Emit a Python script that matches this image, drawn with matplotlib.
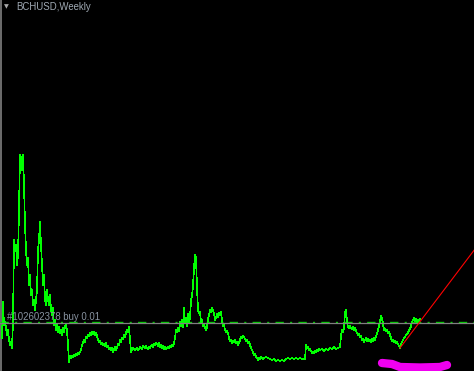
import matplotlib
matplotlib.use("Agg")
import matplotlib.pyplot as plt

# weekly closes (week index = bar position)
weeks = [2, 3, 4, 5, 6, 7, 8, 9, 10, 11, 12, 13, 14, 15, 16, 17, 18, 19, 20, 21,
         22, 23, 24, 25, 26, 27, 28, 29, 30, 31, 32, 33, 34, 35, 36, 37, 38, 39, 40, 41,
         42, 43, 44, 45, 46, 47, 48, 49, 50, 51, 52, 53, 54, 55, 56, 57, 58, 59, 60, 61,
         62, 63, 64, 65, 66, 67, 68, 69, 70, 71, 72, 73, 74, 75, 76, 77, 78, 79, 80, 81,
         82, 83, 84, 85, 86, 87, 88, 89, 90, 91, 92, 93, 94, 95, 96, 97, 98, 99, 100, 101,
         102, 103, 104, 105, 106, 107, 108, 109, 110, 111, 112, 113, 114, 115, 116, 117, 118, 119, 120, 121,
         122, 123, 124, 125, 126, 127, 128, 129, 130, 131, 132, 133, 134, 135, 136, 137, 138, 139, 140, 141,
         142, 143, 144, 145, 146, 147, 148, 149, 150, 151, 152, 153, 154, 155, 156, 157, 158, 159, 160, 161,
         162, 163, 164, 165, 166, 167, 168, 169, 170, 171, 172, 173, 174, 175, 176, 177, 178, 179, 180, 181,
         182, 183, 184, 185, 186, 187, 188, 189, 190, 191, 192, 193, 194, 195, 196, 197, 198, 199, 200, 201,
         202, 203, 204, 205, 206, 207, 208, 209, 210, 211, 212, 213, 214, 215, 216, 217, 218, 219, 220, 221,
         222, 223, 224, 225, 226, 227, 228, 229, 230, 231, 232, 233, 234, 235, 236, 237, 238, 239, 240, 241,
         242, 243, 244, 245, 246, 247, 248, 249, 250, 251, 252, 253, 254, 255, 256, 257, 258, 259, 260, 261,
         262, 263, 264, 266, 268, 270, 272, 274, 276, 278, 280, 282, 284, 286, 288, 290, 292, 294, 296, 298,
         300, 302, 304, 305, 306, 307, 308, 309, 310, 311, 312, 313, 314, 315, 316, 317, 318, 319, 320, 322,
         324, 326, 328, 330, 332, 334, 336, 338, 340, 341, 342, 343, 344, 345, 346, 347, 348, 349, 350, 351,
         352, 353, 354, 355, 356, 357, 358, 359, 360, 361, 362, 363, 364, 365, 366, 367, 368, 369, 370, 371,
         372, 373, 374, 375, 376, 377, 378, 379, 380, 381, 382, 383, 384, 385, 386, 387, 388, 389, 390, 391,
         392, 393, 394, 395, 396, 397, 398, 399, 400, 401, 402, 403, 404, 405, 406, 407, 408, 409, 410, 411,
         412, 413, 414, 415, 416, 417, 418, 419, 420]
closes = [330, 690, 460, 490, 430, 360, 410, 310, 260, 290, 230, 490, 1310, 1210, 1260, 1060, 1160, 1610, 2160, 2130,
          2010, 2160, 1860, 1460, 1210, 1060, 1130, 860, 960, 760, 810, 660, 710, 610, 710, 810, 1210, 1310, 1490, 1260,
          1060, 860, 960, 710, 660, 810, 710, 660, 760, 610, 560, 630, 460, 510, 410, 460, 390, 440, 380, 410,
          360, 430, 390, 450, 460, 410, 260, 90, 150, 130, 150, 140, 160, 150, 170, 160, 180, 170, 190, 210,
          260, 280, 310, 290, 340, 330, 360, 350, 380, 360, 390, 370, 390, 360, 380, 350, 310, 290, 300, 270,
          280, 260, 270, 250, 280, 240, 250, 220, 230, 210, 230, 190, 220, 240, 210, 230, 270, 260, 310, 290,
          330, 320, 360, 340, 380, 410, 390, 440, 310, 190, 210, 230, 220, 210, 220, 230, 210, 220, 240, 230,
          220, 250, 240, 230, 250, 230, 220, 240, 230, 250, 260, 240, 270, 260, 280, 270, 250, 280, 240, 260,
          230, 250, 220, 240, 220, 230, 240, 230, 250, 240, 260, 250, 280, 330, 410, 390, 430, 400, 490, 450,
          510, 440, 630, 480, 530, 450, 570, 490, 530, 710, 750, 850, 1030, 1160, 1130, 830, 610, 580, 590, 490,
          510, 450, 470, 430, 410, 440, 530, 550, 610, 590, 630, 600, 580, 510, 530, 570, 540, 580, 560, 590,
          510, 450, 460, 410, 390, 400, 380, 330, 300, 310, 280, 300, 290, 310, 280, 290, 260, 280, 310, 340,
          330, 350, 340, 320, 300, 310, 280, 290, 260, 230, 210, 190, 160, 170, 140, 130, 110, 130, 120, 140,
          130, 120, 130, 140, 130, 120, 110, 120, 100, 110, 100, 110, 100, 120, 130, 120, 130, 120, 130, 120,
          130, 120, 120, 120, 260, 230, 240, 210, 220, 200, 180, 190, 180, 200, 190, 210, 200, 220, 210, 220,
          200, 220, 210, 230, 220, 240, 220, 230, 240, 350, 410, 390, 430, 590, 610, 490, 440, 430, 450, 430,
          420, 440, 410, 430, 400, 380, 360, 370, 340, 350, 310, 320, 290, 310, 330, 300, 320, 300, 310, 290,
          320, 300, 330, 310, 350, 370, 410, 450, 490, 550, 530, 470, 410, 420, 400, 410, 380, 390, 360, 330,
          300, 310, 290, 300, 280, 290, 270, 250, 230, 270, 290, 310, 330, 340, 360, 370, 380, 410, 420, 450,
          490, 510, 530, 500, 520, 490, 510, 500, 520]

order_price = 480       # buy order level
order_label = "#102602378 buy 0.01"
trend_weeks = [400, 475]
trend_prices = [230, 1220]
# magenta highlight drawn on the screenshot
mark_x = [382, 392, 400, 420, 440, 447]
mark_y = [80, 70, 40, 35, 40, 60]

fig = plt.figure(figsize=(4.74, 3.71), dpi=100, facecolor="black")
ax = fig.add_axes([0, 0, 1, 1])
ax.set_facecolor("black")
ax.set_xlim(0, 474)
ax.set_ylim(0, 3710)
ax.axis("off")

ax.axvline(1, color="#808080", lw=1.2)

ax.plot(weeks, closes, color="#00ff00", lw=0.5, antialiased=False, zorder=3)

ax.axhline(order_price + 10, color="#00d000", lw=1.0,
           linestyle=(0, (6, 4.5, 1.5, 4.5)), zorder=2)
ax.axhline(order_price, color="#808080", lw=0.9, zorder=4)
ax.text(7, order_price + 25, order_label, color="#8893a0", fontsize=6.9,
        family="Liberation Sans", va="baseline", ha="left", zorder=5)

ax.plot(trend_weeks, trend_prices, color="#ff0000", lw=0.8, zorder=4)

ax.plot(mark_x, mark_y, color="#f000f0", lw=6, solid_capstyle="round",
        solid_joinstyle="round", zorder=6)

ax.text(16, 3607, "BCHUSD,Weekly", color="#a0aab4", fontsize=6.9,
        family="Liberation Sans", va="baseline", ha="left")
ax.text(3.5, 3630, "\u25bc", color="#a8a8a8", fontsize=4.5, va="baseline", ha="left")

fig.savefig("out.png", dpi=100, facecolor="black")
